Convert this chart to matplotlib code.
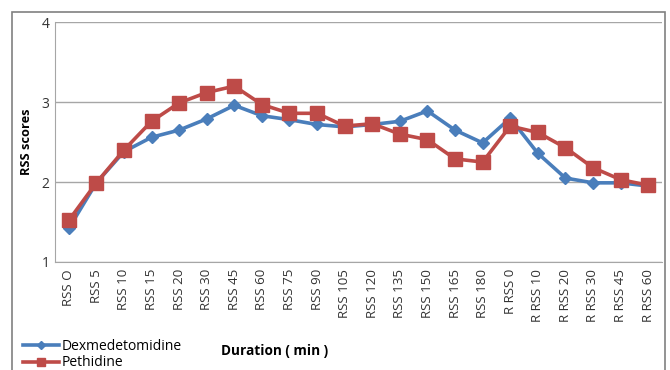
import matplotlib.pyplot as plt
from matplotlib.patches import Rectangle

plt.rcParams['font.family'] = ['Open Sans', 'DejaVu Sans']

# time points (min) and mean RSS scores per group
durations = ['RSS O', 'RSS 5', 'RSS 10', 'RSS 15', 'RSS 20', 'RSS 30', 'RSS 45',
             'RSS 60', 'RSS 75', 'RSS 90', 'RSS 105', 'RSS 120', 'RSS 135',
             'RSS 150', 'RSS 165', 'RSS 180', 'R RSS 0', 'R RSS 10', 'R RSS 20',
             'R RSS 30', 'R RSS 45', 'R RSS 60']
dexmedetomidine = [1.42, 1.99, 2.38, 2.56, 2.65, 2.79, 2.96, 2.83, 2.78, 2.72, 2.69,
                   2.72, 2.76, 2.89, 2.65, 2.49, 2.80, 2.36, 2.05, 1.99, 1.99, 1.95]
pethidine = [1.52, 1.99, 2.40, 2.76, 2.99, 3.12, 3.20, 2.97, 2.86, 2.86, 2.70,
             2.73, 2.60, 2.53, 2.29, 2.25, 2.70, 2.62, 2.43, 2.18, 2.03, 1.96]
y_ticks = [1, 2, 3, 4]

fig = plt.figure(figsize=(6.7, 3.7), dpi=100)
ax = fig.add_axes([0.082, 0.292, 0.906, 0.648])

x = range(len(durations))
ax.plot(x, dexmedetomidine, color='#4a7ebb', lw=2.6, marker='D', ms=6.5,
        label='Dexmedetomidine', zorder=3)
ax.plot(x, pethidine, color='#be4b48', lw=2.6, marker='s', ms=10,
        label='Pethidine', zorder=4)

ax.set_xlim(-0.5, len(durations) - 0.5)
ax.set_ylim(1, 4)
ax.set_yticks(y_ticks)
ax.set_xticks(list(x))
ax.set_xticklabels(durations, rotation=90, fontsize=9.6, color='#333333')
ax.tick_params(axis='y', labelsize=10, length=0, pad=4, colors='#333333')
ax.tick_params(axis='x', length=0, pad=5)
ax.yaxis.grid(True, color='#a6a6a6', lw=1)
ax.set_axisbelow(True)
for side in ['top', 'right']:
    ax.spines[side].set_visible(False)
ax.spines['left'].set_color('#a6a6a6')
ax.spines['bottom'].set_color('#a6a6a6')

ax.set_ylabel('RSS scores', fontsize=9.2, fontweight='bold', labelpad=6)
fig.text(0.41, 0.052, 'Duration ( min )', fontsize=9.8, fontweight='bold',
         ha='center', va='center')

fig.legend(loc='lower left', bbox_to_anchor=(0.015, -0.035), frameon=False,
           fontsize=10, handlelength=2.6, handletextpad=0.2, labelspacing=0.1,
           markerscale=0.6)

# outer chart frame
fig.patches.append(Rectangle((0.018, -0.01), 0.975, 0.977, transform=fig.transFigure,
                             fill=False, ec='#808080', lw=1.2))

fig.savefig('out.png', dpi=100)
